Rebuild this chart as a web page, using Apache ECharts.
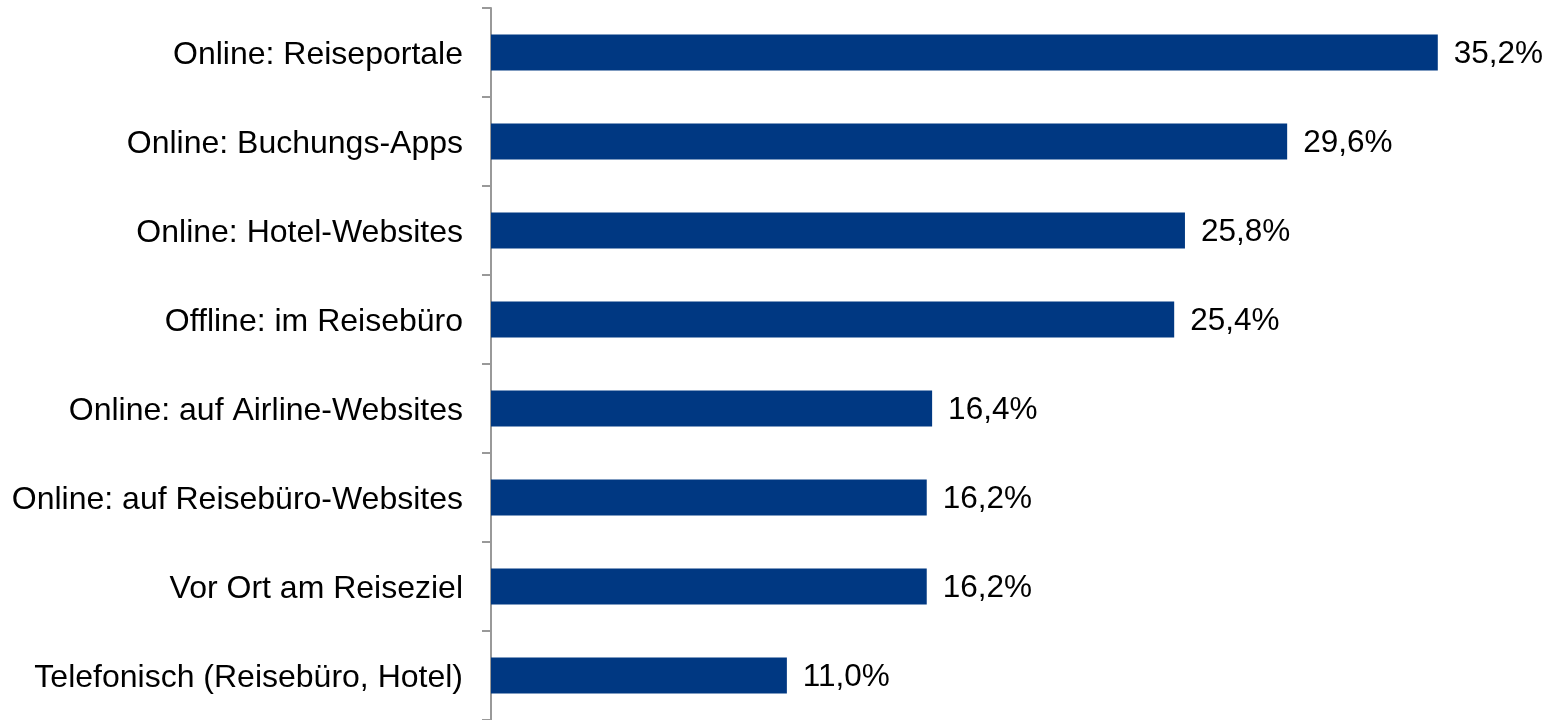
<!DOCTYPE html>
<html>
<head>
<meta charset="utf-8">
<script src="https://cdn.jsdelivr.net/npm/echarts@6/dist/echarts.min.js"></script>
<style>html,body{margin:0;padding:0;background:#fff;}#c{width:1550px;height:720px;}</style>
</head>
<body>
<div id="c"></div>
<script>
const categories = [
  "Online: Reiseportale",
  "Online: Buchungs-Apps",
  "Online: Hotel-Websites",
  "Offline: im Reisebüro",
  "Online: auf Airline-Websites",
  "Online: auf Reisebüro-Websites",
  "Vor Ort am Reiseziel",
  "Telefonisch (Reisebüro, Hotel)"
];
const values = [35.2, 29.6, 25.8, 25.4, 16.4, 16.2, 16.2, 11.0];

const FONT = 'Liberation Sans, Arial, sans-serif';
const chart = echarts.init(document.getElementById('c'), null, {renderer: 'canvas'});
chart.setOption({
  animation: false,
  backgroundColor: '#fff',
  grid: {left: 491, top: 8, bottom: 0, right: 10, containLabel: false},
  xAxis: {
    type: 'value', min: 0, max: 39, show: false
  },
  yAxis: {
    type: 'category',
    data: categories,
    inverse: true,
    axisLine: {show: true, lineStyle: {color: '#999', width: 2}},
    axisTick: {show: true, length: 9, lineStyle: {color: '#999', width: 2}},
    axisLabel: {
      margin: 28,
      formatter: v => '{t|' + v + '}',
      rich: {t: {color: '#000', fontFamily: FONT, fontSize: 32, lineHeight: 36, padding: [5, 0, 0, 0]}}
    },
    splitLine: {show: false}
  },
  series: [{
    type: 'bar',
    data: values,
    barWidth: 36,
    itemStyle: {color: '#003882'},
    label: {
      show: true, position: 'right', distance: 16,
      formatter: p => '{t|' + p.value.toFixed(1).replace('.', ',') + '%}',
      rich: {t: {color: '#000', fontFamily: FONT, fontSize: 31.5, lineHeight: 36, padding: [4, 0, 0, 0]}}
    }
  }]
});
</script>
</body>
</html>
